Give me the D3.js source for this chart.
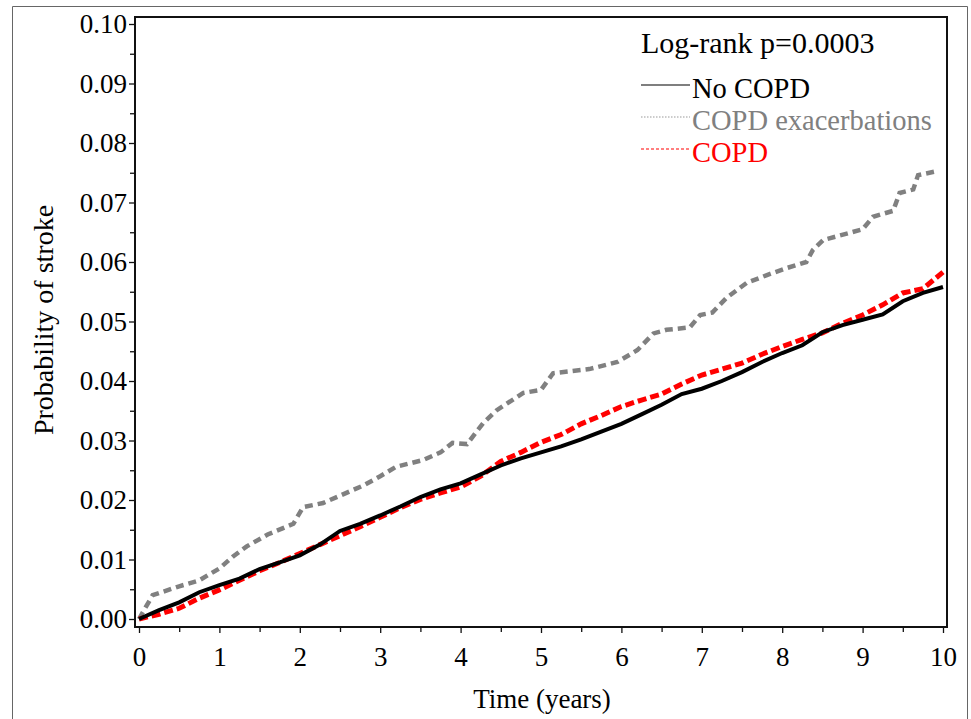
<!DOCTYPE html>
<html>
<head>
<meta charset="utf-8">
<script src="https://cdn.jsdelivr.net/npm/d3@7"></script>
<style>
  body { margin: 0; background: #fff; }
  text { font-family: "Liberation Serif", "Times New Roman", serif; }
</style>
</head>
<body>
<svg width="971" height="719"></svg>
<script>
// No COPD (black, solid)
const noCopdTime = [0, 0.25, 0.5, 0.75, 1.0, 1.25, 1.5, 1.75, 2.0, 2.25, 2.5, 2.75, 3.0, 3.25, 3.5, 3.75,
  4.0, 4.25, 4.5, 4.75, 5.0, 5.25, 5.5, 5.75, 6.0, 6.25, 6.5, 6.75, 7.0, 7.25, 7.5, 7.75,
  8.0, 8.25, 8.5, 8.75, 9.0, 9.25, 9.5, 9.75, 10.0];
const noCopdProb = [0, 0.0015, 0.0028, 0.0045, 0.0057, 0.0068, 0.0084, 0.0095, 0.0107, 0.0125, 0.0148, 0.016,
  0.0174, 0.0189, 0.0205, 0.0218, 0.0228, 0.0243, 0.0258, 0.027, 0.028, 0.029, 0.0302, 0.0315,
  0.0328, 0.0344, 0.036, 0.0378, 0.0387, 0.04, 0.0415, 0.0432, 0.0447, 0.046, 0.0482, 0.0494,
  0.0503, 0.0512, 0.0534, 0.0548, 0.0558];

// COPD (red, dashed)
const copdTime = noCopdTime;
const copdProb = [0, 0.0008, 0.0018, 0.0035, 0.0049, 0.0065, 0.0081, 0.0095, 0.011, 0.0125, 0.014, 0.0155,
  0.0171, 0.0187, 0.0201, 0.0212, 0.0222, 0.024, 0.0265, 0.028, 0.0297, 0.031, 0.0328, 0.0342,
  0.0357, 0.0368, 0.0378, 0.0395, 0.041, 0.042, 0.043, 0.0445, 0.0458, 0.047, 0.0481, 0.0497,
  0.0511, 0.0528, 0.0548, 0.0555, 0.0583];

// COPD exacerbations (grey, dashed) - corner points of the steps
const exacTime = [0, 0.05, 0.17, 0.5, 0.75, 1.0, 1.17, 1.34, 1.6, 1.92, 2.04, 2.29, 2.58, 2.8, 3.0, 3.2,
  3.53, 3.75, 3.9, 4.08, 4.28, 4.45, 4.78, 5.0, 5.15, 5.6, 5.95, 6.2, 6.4, 6.56, 6.85, 6.98, 7.13,
  7.31, 7.56, 7.81, 8.06, 8.3, 8.38, 8.51, 8.84, 9.0, 9.13, 9.38, 9.46, 9.63, 9.69, 9.9];
const exacProb = [0, 0.0012, 0.004, 0.0055, 0.0065, 0.0085, 0.0105, 0.0122, 0.0142, 0.016, 0.0188, 0.0195,
  0.0212, 0.0225, 0.024, 0.0256, 0.0267, 0.028, 0.0296, 0.0294, 0.0329, 0.0351, 0.038, 0.0385,
  0.0413, 0.042, 0.0432, 0.0452, 0.048, 0.0486, 0.049, 0.0511, 0.0515, 0.054, 0.0565, 0.0578, 0.059,
  0.06, 0.062, 0.0637, 0.0649, 0.0655, 0.0676, 0.0686, 0.0716, 0.0722, 0.0746, 0.0752];

const xTicks = [0, 1, 2, 3, 4, 5, 6, 7, 8, 9, 10];
const yTicks = [0, 0.01, 0.02, 0.03, 0.04, 0.05, 0.06, 0.07, 0.08, 0.09, 0.10];
const legendNames = ["No COPD", "COPD exacerbations", "COPD"];
const pValueText = "Log-rank p=0.0003";

const svg = d3.select("svg");

// outer frame of the figure
svg.append("path")
    .attr("d", "M12.5,719 V6.5 H967.5 V719")
    .attr("fill", "none")
    .attr("stroke", "#666")
    .attr("stroke-width", 1);

const box = { left: 135, right: 947, top: 17, bottom: 627 };

const x = d3.scaleLinear().domain([0, 10]).range([139, 943]);
const y = d3.scaleLinear().domain([0, 0.1]).range([619, 24]);

// plot box
svg.append("rect")
    .attr("x", box.left)
    .attr("y", box.top)
    .attr("width", box.right - box.left)
    .attr("height", box.bottom - box.top)
    .attr("fill", "none")
    .attr("stroke", "#111")
    .attr("stroke-width", 2);

// minor ticks
svg.append("g")
    .attr("transform", "translate(0," + box.bottom + ")")
    .call(d3.axisBottom(x).tickValues(d3.range(0.5, 10, 1)).tickSize(5).tickFormat(""))
    .call(g => g.select(".domain").remove());
svg.append("g")
    .attr("transform", "translate(" + box.left + ",0)")
    .call(d3.axisLeft(y).tickValues(d3.range(0.005, 0.1, 0.01)).tickSize(5).tickFormat(""))
    .call(g => g.select(".domain").remove());

// major ticks + labels
const xAxis = svg.append("g")
    .attr("transform", "translate(0," + box.bottom + ")")
    .call(d3.axisBottom(x).tickValues(xTicks).tickSize(6).tickPadding(14).tickFormat(d3.format("d")));
xAxis.select(".domain").remove();
xAxis.selectAll("text").attr("font-size", 27).attr("fill", "#000");

const yAxis = svg.append("g")
    .attr("transform", "translate(" + box.left + ",0)")
    .call(d3.axisLeft(y).tickValues(yTicks).tickSize(6).tickPadding(2).tickFormat(d3.format(".2f")));
yAxis.select(".domain").remove();
yAxis.selectAll("text").attr("font-size", 27).attr("fill", "#000");

svg.selectAll(".tick line").attr("stroke", "#111").attr("stroke-width", 1.3);

// axis titles
svg.append("text")
    .attr("x", 542)
    .attr("y", 708)
    .attr("text-anchor", "middle")
    .attr("font-size", 27)
    .text("Time (years)");

svg.append("text")
    .attr("transform", "translate(53,320) rotate(-90)")
    .attr("text-anchor", "middle")
    .attr("font-size", 28)
    .text("Probability of stroke");

// curves
const line = d3.line()
    .x(d => x(d[0]))
    .y(d => y(d[1]));

const series = [
  { time: exacTime, prob: exacProb, color: "#808080", dash: "8,5", width: 4.5 },
  { time: copdTime, prob: copdProb, color: "#ff0000", dash: "9,4", width: 5 },
  { time: noCopdTime, prob: noCopdProb, color: "#000000", dash: null, width: 4 }
];

series.forEach(function(s) {
  const pts = s.time.map((t, i) => [t, s.prob[i]]);
  svg.append("path")
      .datum(pts)
      .attr("fill", "none")
      .attr("stroke", s.color)
      .attr("stroke-width", s.width)
      .attr("stroke-dasharray", s.dash)
      .attr("d", line);
});

// legend
svg.append("text")
    .attr("x", 641)
    .attr("y", 53)
    .attr("font-size", 30)
    .text(pValueText);

const legendStyle = [
  { color: "#000", text: "#000", dash: null },
  { color: "#999", text: "#808080", dash: "1.5,1.5" },
  { color: "#ff0000", text: "#ff0000", dash: "3,2" }
];

legendNames.forEach(function(name, i) {
  const by = 98 + i * 32;
  svg.append("line")
      .attr("x1", 641).attr("x2", 690)
      .attr("y1", by - 13).attr("y2", by - 13)
      .attr("stroke", legendStyle[i].color)
      .attr("stroke-width", 1.2)
      .attr("stroke-dasharray", legendStyle[i].dash);
  svg.append("text")
      .attr("x", 692)
      .attr("y", by)
      .attr("font-size", 28.5)
      .attr("fill", legendStyle[i].text)
      .text(name);
});
</script>
</body>
</html>
